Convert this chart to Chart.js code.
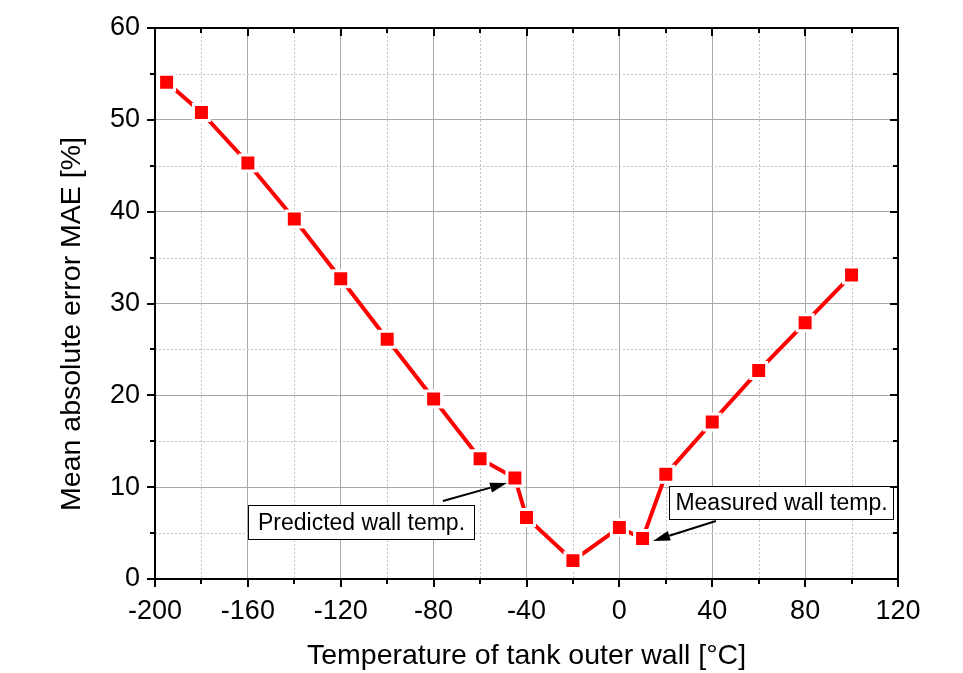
<!DOCTYPE html>
<html><head><meta charset="utf-8">
<script src="https://cdn.jsdelivr.net/npm/chart.js@4/dist/chart.umd.min.js"></script>
<style>html,body{margin:0;padding:0;background:#fff}#wrap{width:963px;height:673px}</style>
</head><body><div id="wrap"><canvas id="c" width="963" height="673"></canvas></div>
<script>
// ---- data ----
const temperatures = [-195, -180, -160, -140, -120, -100, -80, -60, -45, -40, -20, 0, 10, 20, 40, 60, 80, 100];
const maeValues = [54.1, 50.8, 45.3, 39.2, 32.7, 26.1, 19.6, 13.1, 11.0, 6.7, 2.0, 5.6, 4.4, 11.4, 17.1, 22.7, 27.9, 33.1];
const xTicks = [-200, -160, -120, -80, -40, 0, 40, 80, 120];
const yTicks = [0, 10, 20, 30, 40, 50, 60];
const xMinorTicks = [-180, -140, -100, -60, -20, 20, 60, 100];
const yMinorTicks = [5, 15, 25, 35, 45, 55];
const xTitle = 'Temperature of tank outer wall [°C]';
const yTitle = 'Mean absolute error MAE [%]';
const noteTexts = ['Predicted wall temp.', 'Measured wall temp.'];

const FONT = "Arial, 'Liberation Sans', Helvetica, sans-serif";

const notes = [
  {text: noteTexts[0], boxX: -160, boxY: 8.06, w: 226, h: 34, tail: [-76, 8.49], tip: [-48.4, 10.45]},
  {text: noteTexts[1], boxX: 21.4, boxY: 10.13, w: 224, h: 33, tail: [41.6, 6.32], tip: [14.5, 4.14]}
];

function drawArrow(ctx, x1, y1, x2, y2) {
  const ang = Math.atan2(y2 - y1, x2 - x1);
  const hl = 17, hw = 5;
  const bx = x2 - hl * Math.cos(ang), by = y2 - hl * Math.sin(ang);
  ctx.beginPath(); ctx.moveTo(x1, y1); ctx.lineTo(bx, by); ctx.stroke();
  ctx.beginPath(); ctx.moveTo(x2, y2);
  ctx.lineTo(bx + hw * Math.sin(ang), by - hw * Math.cos(ang));
  ctx.lineTo(bx - hw * Math.sin(ang), by + hw * Math.cos(ang));
  ctx.closePath(); ctx.fill();
}

const decorPlugin = {
  id: 'decor',
  beforeDatasetsDraw(chart) {
    const {ctx, chartArea: a, scales: {x, y}} = chart;
    ctx.save();
    ctx.strokeStyle = '#c4c4c4'; ctx.lineWidth = 1; ctx.setLineDash([2, 2]);
    xMinorTicks.forEach(v => { const px = Math.round(x.getPixelForValue(v)) + 0.5; ctx.beginPath(); ctx.moveTo(px, a.top); ctx.lineTo(px, a.bottom); ctx.stroke(); });
    yMinorTicks.forEach(v => { const py = Math.round(y.getPixelForValue(v)) + 0.5; ctx.beginPath(); ctx.moveTo(a.left, py); ctx.lineTo(a.right, py); ctx.stroke(); });
    ctx.restore();
  },
  afterDatasetsDraw(chart) {
    const {ctx, scales: {x, y}} = chart;
    ctx.save();
    notes.forEach(n => {
      ctx.strokeStyle = '#000'; ctx.fillStyle = '#000'; ctx.lineWidth = 2;
      drawArrow(ctx, x.getPixelForValue(n.tail[0]), y.getPixelForValue(n.tail[1]), x.getPixelForValue(n.tip[0]), y.getPixelForValue(n.tip[1]));
      const bx = Math.round(x.getPixelForValue(n.boxX)) + 0.5, by = Math.round(y.getPixelForValue(n.boxY)) + 0.5;
      ctx.fillStyle = '#fff'; ctx.fillRect(bx, by, n.w, n.h);
      ctx.lineWidth = 1; ctx.strokeStyle = '#000'; ctx.strokeRect(bx, by, n.w, n.h);
      ctx.fillStyle = '#000'; ctx.font = '23px ' + FONT; ctx.textAlign = 'center'; ctx.textBaseline = 'middle';
      ctx.fillText(n.text, bx + n.w / 2, by + n.h / 2 + 1);
    });
    ctx.restore();
  },
  afterDraw(chart) {
    const {ctx, chartArea: a, scales: {x, y}} = chart;
    ctx.save();
    ctx.strokeStyle = '#000';
    ctx.lineWidth = 2;
    const tick = (x1, y1, x2, y2) => { ctx.beginPath(); ctx.moveTo(x1, y1); ctx.lineTo(x2, y2); ctx.stroke(); };
    xTicks.forEach(v => { const px = Math.round(x.getPixelForValue(v)); tick(px, a.bottom, px, a.bottom + 8); tick(px, a.top, px, a.top + 8); });
    xMinorTicks.forEach(v => { const px = Math.round(x.getPixelForValue(v)); tick(px, a.bottom, px, a.bottom + 5); tick(px, a.top, px, a.top + 5); });
    yTicks.forEach(v => { const py = Math.round(y.getPixelForValue(v)); tick(a.left - 8, py, a.left, py); tick(a.right - 8, py, a.right, py); });
    yMinorTicks.forEach(v => { const py = Math.round(y.getPixelForValue(v)); tick(a.left - 5, py, a.left, py); tick(a.right - 5, py, a.right, py); });
    ctx.strokeRect(a.left, a.top, a.right - a.left, a.bottom - a.top);
    // y title
    ctx.fillStyle = '#000'; ctx.font = '28.5px ' + FONT; ctx.textAlign = 'center'; ctx.textBaseline = 'middle';
    ctx.translate(72, 324); ctx.rotate(-Math.PI / 2);
    ctx.fillText(yTitle, 0, 0);
    ctx.restore();
  }
};

new Chart(document.getElementById('c'), {
  type: 'line',
  data: {
    datasets: [{
      data: temperatures.map((t, i) => ({x: t, y: maeValues[i]})),
      borderColor: '#ff0000', borderWidth: 4,
      backgroundColor: '#ff0000',
      pointStyle: 'rect', pointRadius: 11.3, pointHoverRadius: 11.3,
      pointBackgroundColor: '#ff0000', pointBorderColor: '#ffffff', pointBorderWidth: 3,
      tension: 0, fill: false
    }]
  },
  options: {
    responsive: false, animation: false, devicePixelRatio: 1, events: [],
    layout: {padding: {left: 0, top: 28, right: 65, bottom: 0}},
    plugins: {legend: {display: false}, tooltip: {enabled: false}},
    scales: {
      x: {
        type: 'linear', min: -200, max: 120,
        afterBuildTicks: s => { s.ticks = xTicks.map(v => ({value: v})); },
        afterFit: s => { s.height = 94; s.paddingLeft = 0; s.paddingRight = 0; },
        ticks: {font: {size: 27, family: FONT}, color: '#000', padding: 16, maxRotation: 0, autoSkip: false},
        grid: {color: '#a8a8a8', lineWidth: 1, drawTicks: false},
        border: {display: false},
        title: {display: true, text: xTitle, font: {size: 28.5, family: FONT}, color: '#000', padding: {top: 0, bottom: 0}}
      },
      y: {
        type: 'linear', min: 0, max: 60,
        afterBuildTicks: s => { s.ticks = yTicks.map(v => ({value: v})); },
        afterFit: s => { s.width = 155; s.paddingTop = 0; s.paddingBottom = 0; },
        ticks: {font: {size: 27, family: FONT}, color: '#000', padding: 15, autoSkip: false},
        grid: {color: '#a8a8a8', lineWidth: 1, drawTicks: false},
        border: {display: false}
      }
    }
  },
  plugins: [decorPlugin]
});
</script>
</body></html>
